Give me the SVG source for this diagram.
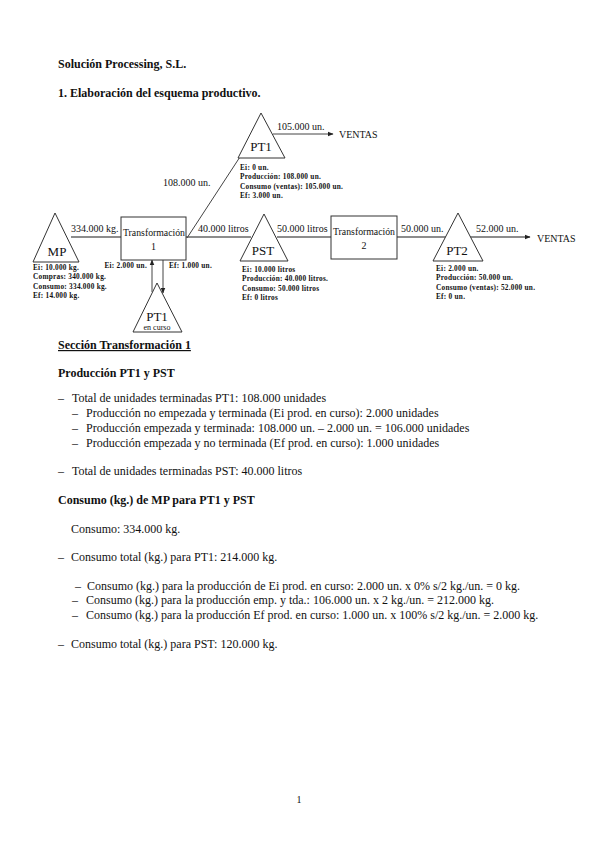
<svg xmlns="http://www.w3.org/2000/svg" width="599" height="848" viewBox="0 0 599 848">
<defs>
<marker id="ah" viewBox="0 0 10 10" refX="9" refY="5" markerWidth="6" markerHeight="6" orient="auto" markerUnits="userSpaceOnUse">
<path d="M0,1 L10,5 L0,9 z" fill="#222"/>
</marker>
<style>
.t{font-family:"Liberation Serif","Times New Roman",serif;fill:#111}
.h{font-size:12px;font-weight:bold}
.b{font-size:12px}
.lb{font-size:10px}
.nm{font-size:13px}
.inf{font-size:7.3px;font-weight:bold;letter-spacing:0.25px}
.shape{fill:#fff;stroke:#333;stroke-width:1}
.ln{fill:none;stroke:#666;stroke-width:1.6}
.thin{fill:none;stroke:#444;stroke-width:1}
</style>
</defs>
<rect width="599" height="848" fill="#fff"/>

<text class="t h" x="58" y="68">Solución Processing, S.L.</text>
<text class="t h" x="58" y="97">1.  Elaboración del esquema productivo.</text>

<g id="connectors">
<line class="ln" x1="71" y1="237" x2="121" y2="237"/>
<line class="ln" x1="186" y1="237" x2="251" y2="237"/>
<line class="ln" x1="277" y1="237" x2="331" y2="237"/>
<line class="ln" x1="397" y1="237" x2="447" y2="237"/>
<line class="ln" x1="470" y1="237" x2="530" y2="237" marker-end="url(#ah)"/>
<line class="thin" x1="187" y1="238" x2="253" y2="137"/>
<line class="thin" x1="273" y1="134" x2="333" y2="134" marker-end="url(#ah)"/>
<line class="thin" x1="152" y1="292" x2="152" y2="260" marker-end="url(#ah)"/>
<line class="thin" x1="163" y1="260" x2="163" y2="293" marker-end="url(#ah)"/>
<text class="t lb" x="71" y="232">334.000 kg.</text>
<text class="t lb" x="198" y="232">40.000 litros</text>
<text class="t lb" x="277" y="232">50.000 litros</text>
<text class="t lb" x="401" y="232">50.000 un.</text>
<text class="t lb" x="476" y="232">52.000 un.</text>
<text class="t lb" x="537" y="242">VENTAS</text>
<text class="t lb" x="163" y="186">108.000 un.</text>
<text class="t lb" x="277" y="130">105.000 un.</text>
<text class="t lb" x="339" y="138">VENTAS</text>
<text class="t inf" x="147" y="268" text-anchor="end">Ei: 2.000 un.</text>
<text class="t inf" x="169" y="268">Ef: 1.000 un.</text>
</g>

<g id="mp">
<polygon class="shape" points="55,213 33,262 79,262"/>
<text class="t nm" x="57" y="256" text-anchor="middle">MP</text>
<text class="t inf" x="33" y="270">Ei: 10.000 kg.</text>
<text class="t inf" x="33" y="279">Compras: 340.000 kg.</text>
<text class="t inf" x="33" y="289">Consumo: 334.000 kg.</text>
<text class="t inf" x="33" y="298">Ef: 14.000 kg.</text>
</g>

<g id="transf1">
<rect class="shape" x="121" y="217" width="65" height="43"/>
<text class="t" x="123" y="236" font-size="10" textLength="62" lengthAdjust="spacingAndGlyphs">Transformación</text>
<text class="t lb" x="153.5" y="250" text-anchor="middle">1</text>
</g>

<g id="pt1">
<polygon class="shape" points="261,113 238,158 285,158"/>
<text class="t nm" x="261" y="151" text-anchor="middle">PT1</text>
<text class="t inf" x="240" y="170">Ei: 0 un.</text>
<text class="t inf" x="240" y="179">Producción: 108.000 un.</text>
<text class="t inf" x="240" y="189">Consumo (ventas): 105.000 un.</text>
<text class="t inf" x="240" y="198">Ef: 3.000 un.</text>
</g>

<g id="pst">
<polygon class="shape" points="264,214 240,261 288,261"/>
<text class="t nm" x="263" y="255" text-anchor="middle">PST</text>
<text class="t inf" x="242" y="272">Ei: 10.000 litros</text>
<text class="t inf" x="242" y="281">Producción: 40.000 litros.</text>
<text class="t inf" x="242" y="291">Consumo: 50.000 litros</text>
<text class="t inf" x="242" y="300">Ef: 0 litros</text>
</g>

<g id="transf2">
<rect class="shape" x="331" y="216" width="66" height="43"/>
<text class="t" x="333" y="235" font-size="10" textLength="62" lengthAdjust="spacingAndGlyphs">Transformación</text>
<text class="t lb" x="364" y="249" text-anchor="middle">2</text>
</g>

<g id="pt2">
<polygon class="shape" points="458,213 433,261 483,261"/>
<text class="t nm" x="457" y="255" text-anchor="middle">PT2</text>
<text class="t inf" x="436" y="271">Ei: 2.000 un.</text>
<text class="t inf" x="436" y="280">Producción: 50.000 un.</text>
<text class="t inf" x="436" y="290">Consumo (ventas): 52.000 un.</text>
<text class="t inf" x="436" y="299">Ef: 0 un.</text>
</g>

<g id="pt1curso">
<polygon class="shape" points="157,283 133,332 182,332"/>
<text class="t nm" x="157" y="321" text-anchor="middle">PT1</text>
<text class="t" x="157" y="330" text-anchor="middle" font-size="8">en curso</text>
</g>

<text class="t h" x="58" y="349" text-decoration="underline">Sección Transformación 1</text>
<text class="t h" x="58" y="377">Producción PT1 y PST</text>

<text class="t b" x="58" y="402">–</text><text class="t b" x="72" y="402">Total de unidades terminadas PT1: 108.000 unidades</text>
<text class="t b" x="72" y="417">–</text><text class="t b" x="86" y="417">Producción no empezada y terminada (Ei prod. en curso): 2.000 unidades</text>
<text class="t b" x="72" y="432">–</text><text class="t b" x="86" y="432">Producción empezada y terminada: 108.000 un. – 2.000 un. = 106.000 unidades</text>
<text class="t b" x="72" y="447">–</text><text class="t b" x="86" y="447">Producción empezada y no terminada (Ef prod. en curso): 1.000 unidades</text>
<text class="t b" x="58" y="475">–</text><text class="t b" x="72" y="475">Total de unidades terminadas PST: 40.000 litros</text>

<text class="t h" x="58" y="504">Consumo (kg.) de MP para PT1 y PST</text>
<text class="t b" x="71" y="533">Consumo: 334.000 kg.</text>
<text class="t b" x="58" y="561">–</text><text class="t b" x="71" y="561">Consumo total (kg.) para PT1: 214.000 kg.</text>
<text class="t b" x="75" y="590">–</text><text class="t b" x="87" y="590">Consumo (kg.) para la producción de Ei prod. en curso: 2.000 un. x 0% s/2 kg./un. = 0 kg.</text>
<text class="t b" x="72" y="604">–</text><text class="t b" x="86" y="604">Consumo (kg.) para la producción emp. y tda.: 106.000 un. x 2 kg./un. = 212.000 kg.</text>
<text class="t b" x="72" y="619">–</text><text class="t b" x="86" y="619">Consumo (kg.) para la producción Ef prod. en curso: 1.000 un. x 100% s/2 kg./un. = 2.000 kg.</text>
<text class="t b" x="58" y="648">–</text><text class="t b" x="71" y="648">Consumo total (kg.) para PST: 120.000 kg.</text>

<text class="t" x="299" y="803" font-size="10" text-anchor="middle">1</text>
</svg>
